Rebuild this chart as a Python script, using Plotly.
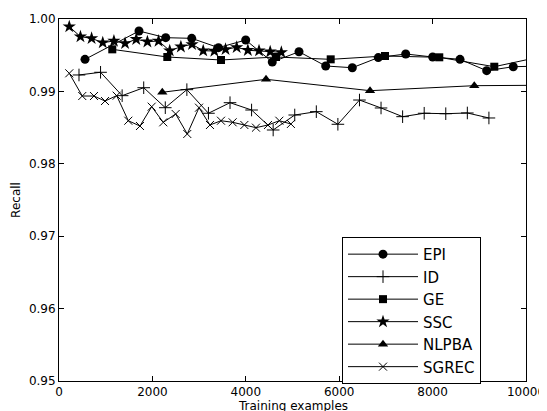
import plotly.graph_objects as go

# ---- data ----
epi_x = [557, 1713, 2285, 2842, 3415, 3998, 4567, 5139, 5711, 6281, 6837, 7424, 8002, 8587, 9158, 9728, 10300]
epi_y = [0.99443, 0.99834, 0.99742, 0.99733, 0.99604, 0.99710, 0.99406, 0.99548, 0.99351, 0.99327,
         0.99467, 0.99517, 0.99475, 0.99443, 0.99286, 0.99341, 0.99350]

id_x = [428, 890, 1352, 1814, 2276, 2738, 3200, 3662, 4124, 4586, 5048, 5510, 5972, 6434, 6896, 7358, 7820, 8282, 8744, 9206]
id_y = [0.99227, 0.99264, 0.98941, 0.99051, 0.98775, 0.99024, 0.98698, 0.98844, 0.98743, 0.98467,
        0.98674, 0.98720, 0.98546, 0.98881, 0.98771, 0.98651, 0.98698, 0.98692, 0.98702, 0.98633]

ge_x = [1141, 2319, 3469, 4647, 5818, 6981, 8143, 9321, 10490]
ge_y = [0.99581, 0.99475, 0.99434, 0.99475, 0.99443, 0.99489, 0.99471, 0.99341, 0.99503]

ssc_x = [220, 459, 698, 937, 1176, 1415, 1654, 1893, 2132, 2371, 2610, 2849, 3088, 3327, 3566, 3805, 4044, 4283, 4522, 4761]
ssc_y = [0.99894, 0.99756, 0.99733, 0.99673, 0.99696, 0.99664, 0.99720, 0.99686, 0.99696, 0.99562,
         0.99617, 0.99650, 0.99562, 0.99558, 0.99581, 0.99609, 0.99568, 0.99562, 0.99548, 0.99540]

nlpba_x = [2212, 4433, 6660, 8893, 11120]
nlpba_y = [0.98988, 0.99167, 0.99010, 0.99079, 0.99088]

sgrec_x = [220, 498, 749, 985, 1235, 1484, 1734, 1985, 2233, 2498, 2747, 2998, 3233, 3469, 3718, 3969, 4218, 4475, 4718, 4966]
sgrec_y = [0.99250, 0.98936, 0.98936, 0.98867, 0.98941, 0.98595, 0.98522, 0.98789, 0.98573, 0.98688,
           0.98412, 0.98775, 0.98536, 0.98595, 0.98573, 0.98536, 0.98499, 0.98536, 0.98595, 0.98550]

x_ticks = [0, 2000, 4000, 6000, 8000, 10000]
y_ticks = [0.95, 0.96, 0.97, 0.98, 0.99, 1.00]

series = [
    ("EPI", epi_x, epi_y, "circle", 9, 0),
    ("ID", id_x, id_y, "cross-thin", 9, 1),
    ("GE", ge_x, ge_y, "square", 8, 0),
    ("SSC", ssc_x, ssc_y, "star", 10, 0),
    ("NLPBA", nlpba_x, nlpba_y, "triangle-up", 9, 0),
    ("SGREC", sgrec_x, sgrec_y, "x-thin", 8, 1),
]

fig = go.Figure()
for name, xs, ys, sym, size, lw in series:
    fig.add_trace(go.Scatter(
        x=xs, y=ys, name=name, mode="lines+markers",
        line=dict(color="black", width=1),
        marker=dict(symbol=sym, size=size, color="black",
                    line=dict(color="black", width=lw)),
    ))

font_family = "DejaVu Sans, sans-serif"
# the page body has an 8px margin, so the figure starts at (8, 8)
fig.update_layout(
    width=539, height=403,
    margin=dict(l=51, r=21, t=11, b=30),
    paper_bgcolor="white", plot_bgcolor="white",
    font=dict(family=font_family, size=12, color="black"),
    showlegend=True,
    legend=dict(
        x=0.606, y=-0.008, xanchor="left", yanchor="bottom",
        bordercolor="black", borderwidth=1, bgcolor="white",
        font=dict(family=font_family, size=15, color="black"),
        itemwidth=70, entrywidth=100, tracegroupgap=0,
    ),
    xaxis=dict(
        range=[0, 10000], tickvals=x_ticks, ticktext=[str(v) for v in x_ticks],
        showgrid=False, zeroline=False, showline=True, linecolor="black", linewidth=1,
        mirror="allticks", ticks="inside", ticklen=5, tickcolor="black",
        automargin=False,
    ),
    yaxis=dict(
        range=[0.95, 1.0], tickvals=y_ticks, ticktext=[f"{v:.2f}" for v in y_ticks],
        showgrid=False, zeroline=False, showline=True, linecolor="black", linewidth=1,
        mirror="allticks", ticks="inside", ticklen=5, tickcolor="black",
        title=dict(text="Recall", standoff=5, font=dict(size=12)),
        automargin=False,
    ),
    annotations=[dict(
        text="Training examples", xref="paper", yref="paper",
        x=0.5, y=-0.070, xanchor="center", yanchor="middle",
        showarrow=False, font=dict(family=font_family, size=12, color="black"),
    )],
)

fig.write_html("out.html")
